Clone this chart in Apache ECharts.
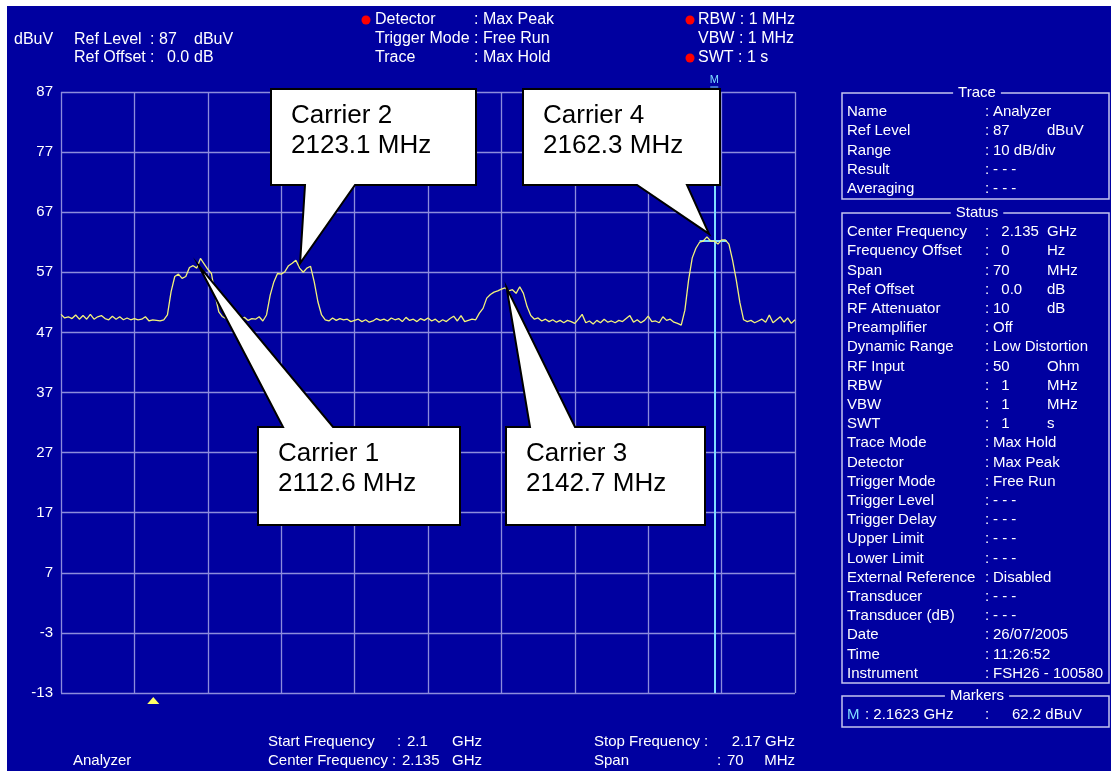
<!DOCTYPE html>
<html><head><meta charset="utf-8">
<script src="https://cdn.jsdelivr.net/npm/echarts@6/dist/echarts.min.js"></script>
<style>html,body{margin:0;padding:0;background:#fff}#c{width:1111px;height:771px}</style>
</head><body><div id="c"></div>
<script>
// ---------- data ----------
const freqStartMHz = 2100, freqStopMHz = 2170, freqDivMHz = 7, freqStepMHz = 0.35;
const levelMin = -13, levelMax = 87, levelDiv = 10;
const traceLevels = [
  50.0,49.4,49.6,49.3,49.9,49.2,49.8,49.2,50.0,49.2,49.6,49.8,49.3,49.1,49.7,49.2,49.6,49.1,49.4,49.1,49.3,49.1,49.2,49.6,48.9,49.1,49.0,48.9,49.1,
  49.9,53.8,56.3,56.7,56.0,56.3,57.8,58.1,57.7,59.3,58.4,57.5,56.8,53.2,50.4,49.6,
  49.3,49.0,49.4,49.1,49.2,49.5,49.0,49.3,49.2,49.6,48.9,
  49.9,53.2,55.4,56.8,56.7,57.1,58.1,58.5,59.0,57.7,57.0,57.7,58.0,55.4,52.1,49.9,49.1,
  48.9,49.4,49.0,49.3,49.1,49.2,48.8,49.0,49.2,48.8,49.1,48.7,48.9,49.3,49.0,49.2,48.9,49.4,49.1,49.3,48.8,49.5,49.0,49.2,48.8,49.3,49.0,49.4,48.9,49.2,48.7,49.1,48.8,49.3,49.7,48.9,49.8,48.8,49.0,49.2,49.1,
  50.2,51.0,52.7,53.3,53.7,53.9,54.2,54.4,53.9,54.1,53.5,54.6,53.5,51.3,49.8,49.2,49.4,48.9,49.2,
  48.8,49.1,48.7,49.0,48.6,49.0,48.8,48.5,49.2,50.0,48.6,48.9,48.4,49.0,48.6,49.2,48.7,48.9,48.6,49.0,48.8,49.3,49.8,48.7,49.1,48.6,49.0,49.7,48.8,48.9,48.6,49.6,49.0,49.2,48.7,48.5,48.2,
  50.7,55.7,59.4,61.0,62.0,62.2,62.9,62.2,62.2,61.7,62.4,62.4,61.7,59.0,55.7,51.9,49.1,
  48.8,49.0,48.6,48.9,49.2,48.7,49.9,48.6,49.1,49.6,48.7,49.4,48.5,49.1
];
const carrierNames = ['Carrier 1','Carrier 2','Carrier 3','Carrier 4'];
const carrierFreqLabels = ['2112.6 MHz','2123.1 MHz','2142.7 MHz','2162.3 MHz'];
const carrierTipFreq = [2113.1, 2122.8, 2142.5, 2161.8];
const carrierTipLevel = [58.2, 58.5, 54.4, 63.4];
const markerFreq = 2162.3, markerLevel = 62.2;
const markerBand = [2160.9, 2163.5];
const triggerFreq = 2108.8;

const headerLeft = [['Ref Level',':','87','dBuV'],['Ref Offset',':','0.0','dB']];
const headerMid = [['Detector','Max Peak',true],['Trigger Mode','Free Run',false],['Trace','Max Hold',false]];
const headerRight = [['RBW : 1 MHz',true],['VBW : 1 MHz',false],['SWT : 1 s',true]];
const traceInfoRows = [['Name','Analyzer',''],['Ref Level','87','dBuV'],['Range','10 dB/div',''],['Result','- - -',''],['Averaging','- - -','']];
const statusRows = [
  ['Center Frequency','  2.135','GHz'],['Frequency Offset','  0','Hz'],['Span','70','MHz'],['Ref Offset','  0.0','dB'],
  ['RF Attenuator','10','dB'],['Preamplifier','Off',''],['Dynamic Range','Low Distortion',''],['RF Input','50','Ohm'],
  ['RBW','  1','MHz'],['VBW','  1','MHz'],['SWT','  1','s'],['Trace Mode','Max Hold',''],['Detector','Max Peak',''],
  ['Trigger Mode','Free Run',''],['Trigger Level','- - -',''],['Trigger Delay','- - -',''],['Upper Limit','- - -',''],
  ['Lower Limit','- - -',''],['External Reference','Disabled',''],['Transducer','- - -',''],['Transducer (dB)','- - -',''],
  ['Date','26/07/2005',''],['Time','11:26:52',''],['Instrument','FSH26 - 100580','']
];
const markerRow = ['M', ': 2.1623 GHz', ':', '62.2 dBuV'];
const footer = [['Start Frequency',':','2.1','GHz'],['Center Frequency',':','2.135','GHz'],['Stop Frequency :','2.17 GHz'],['Span',':','70','MHz']];

// ---------- chart ----------
const BLUE = '#0000a0', GRIDC = '#8c8cdc', FONT = '"Liberation Sans", Arial, sans-serif';
const tracePoints = traceLevels.map((v, i) => [freqStartMHz + i * freqStepMHz, v]);

const chart = echarts.init(document.getElementById('c'), null, {renderer: 'canvas'});
chart.setOption({
  animation: false,
  backgroundColor: BLUE,
  grid: {left: 61, top: 92, width: 734, height: 601},
  xAxis: {type: 'value', min: freqStartMHz, max: freqStopMHz, interval: freqDivMHz,
    axisLine: {show: false}, axisTick: {show: false}, axisLabel: {show: false},
    splitLine: {show: true, lineStyle: {color: GRIDC, width: 1.3}}},
  yAxis: {type: 'value', min: levelMin, max: levelMax, interval: levelDiv,
    axisLine: {show: false}, axisTick: {show: false},
    axisLabel: {color: '#fff', fontSize: 15, fontFamily: FONT, margin: 8},
    splitLine: {show: true, lineStyle: {color: GRIDC, width: 1.3}}},
  series: [{
    type: 'line', data: tracePoints, symbol: 'none', z: 5,
    lineStyle: {color: '#f2f27a', width: 1.3},
    markLine: {silent: true, symbol: ['none','none'], label: {show: false}, animation: false,
      lineStyle: {color: '#7fdcff', type: 'solid', width: 2},
      data: [{xAxis: markerFreq}, [{coord: [markerBand[0], markerLevel]}, {coord: [markerBand[1], markerLevel]}]]}
  }]
});

const px = (f, v) => chart.convertToPixel({gridIndex: 0}, [f, v]);
const G = [];
function txt(x, y, text, o) {
  o = o || {};
  G.push({type: 'text', x: x, y: y, z: o.z || 50, silent: true,
    style: {text: text, fill: o.fill || '#fff', font: (o.size || 15) + 'px ' + FONT,
      align: o.align || 'left', verticalAlign: 'middle',
      backgroundColor: o.bg, padding: o.pad}});
}
function dot(x, y) { G.push({type: 'circle', z: 50, shape: {cx: x, cy: y, r: 4.5}, style: {fill: '#ff0000'}}); }

// white outer margins
G.push({type: 'rect', z: 200, shape: {x: 0, y: 0, width: 1111, height: 6}, style: {fill: '#fff'}});
G.push({type: 'rect', z: 200, shape: {x: 0, y: 0, width: 7, height: 771}, style: {fill: '#fff'}});

// header
txt(14, 40, 'dBuV', {size: 16});
[40, 58].forEach((y, i) => {
  const h = headerLeft[i];
  txt(74, y, h[0], {size: 16}); txt(150, y, h[1], {size: 16});
  txt(i === 0 ? 159 : 167, y, h[2], {size: 16}); txt(194, y, h[3], {size: 16});
});
headerMid.forEach((h, i) => {
  const y = 20 + i * 19;
  if (h[2]) dot(366, y);
  txt(375, y, h[0], {size: 16}); txt(474, y, ': ' + h[1], {size: 16});
});
headerRight.forEach((h, i) => {
  const y = 20 + i * 19;
  if (h[1]) dot(690, y);
  txt(698, y, h[0], {size: 16});
});

// marker M label + underline
const mp = px(markerFreq, levelMax);
txt(mp[0], 80, 'M', {size: 11, fill: '#7fdcff', align: 'center'});
G.push({type: 'line', z: 50, shape: {x1: mp[0] - 4, y1: 87, x2: mp[0] + 4, y2: 87}, style: {stroke: '#7fdcff', lineWidth: 1}});

// trigger triangle
const tp = px(triggerFreq, levelMin);
G.push({type: 'polygon', z: 50, shape: {points: [[tp[0], tp[1] + 4], [tp[0] - 6, tp[1] + 11], [tp[0] + 6, tp[1] + 11]]}, style: {fill: '#ffff66'}});

// footer
txt(73, 761, 'Analyzer');
txt(268, 742, footer[0][0]); txt(397, 742, footer[0][1]); txt(407, 742, footer[0][2]); txt(452, 742, footer[0][3]);
txt(268, 761, footer[1][0]); txt(392, 761, footer[1][1]); txt(402, 761, footer[1][2]); txt(452, 761, footer[1][3]);
txt(594, 742, footer[2][0]); txt(795, 742, footer[2][1], {align: 'right'});
txt(594, 761, footer[3][0]); txt(717, 761, footer[3][1]); txt(727, 761, footer[3][2]); txt(795, 761, footer[3][3], {align: 'right'});

// right panel boxes
const BOXC = '#c4c4ee';
function box(top, bottom, title) {
  G.push({type: 'rect', z: 40, shape: {x: 842, y: top, width: 267, height: bottom - top}, style: {fill: 'none', stroke: BOXC, lineWidth: 1.5}});
  txt(977, top, title, {align: 'center', bg: BLUE, pad: [0, 5], size: 15});
}
box(93, 199, 'Trace');
box(213, 683, 'Status');
box(696, 727, 'Markers');
traceInfoRows.forEach((r, i) => {
  const y = 112 + i * 19.2;
  txt(847, y, r[0]); txt(985, y, ':'); txt(993, y, r[1]); if (r[2]) txt(1047, y, r[2]);
});
statusRows.forEach((r, i) => {
  const y = 232 + i * 19.2;
  txt(847, y, r[0]); txt(985, y, ':'); txt(993, y, r[1]); if (r[2]) txt(1047, y, r[2]);
});
txt(847, 715, markerRow[0], {fill: '#7fdcff'});
txt(865, 715, markerRow[1]); txt(985, 715, markerRow[2]); txt(1012, 715, markerRow[3]);

// callouts (box layout in pixels; tip from data)
const calloutBoxes = [
  {x: 258, y: 427, w: 202, h: 98, base: [283, 333], up: true},
  {x: 271, y: 89, w: 205, h: 96, base: [305, 355], up: false},
  {x: 506, y: 427, w: 199, h: 98, base: [530, 575], up: true},
  {x: 523, y: 89, w: 197, h: 96, base: [637, 687], up: false}
];
calloutBoxes.forEach((b, i) => {
  const tip = px(carrierTipFreq[i], carrierTipLevel[i]);
  const L = b.x, R = b.x + b.w, T = b.y, B = b.y + b.h;
  const pts = b.up
    ? [[L, T], [b.base[0], T], tip, [b.base[1], T], [R, T], [R, B], [L, B]]
    : [[L, T], [R, T], [R, B], [b.base[1], B], tip, [b.base[0], B], [L, B]];
  G.push({type: 'polygon', z: 100, shape: {points: pts}, style: {fill: '#fff', stroke: '#000', lineWidth: 2, lineJoin: 'miter'}});
  txt(L + 20, T + 27, carrierNames[i], {fill: '#000', size: 26, z: 101});
  txt(L + 20, T + 57, carrierFreqLabels[i], {fill: '#000', size: 26, z: 101});
});

chart.setOption({graphic: {elements: G}});
</script></body></html>
